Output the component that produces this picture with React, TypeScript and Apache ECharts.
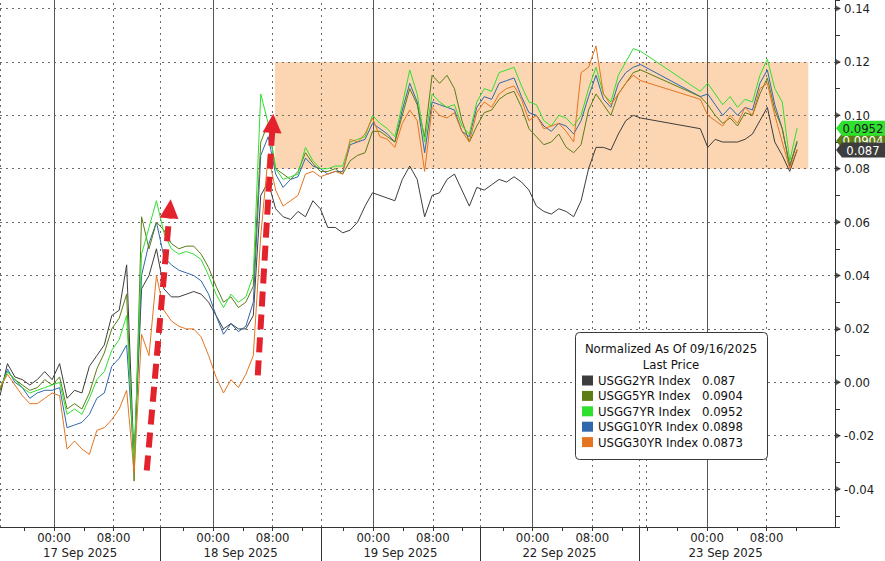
import React, { useEffect, useRef } from "react";
import * as echarts from "echarts";

const FONT = "'DejaVu Sans Condensed', 'Liberation Sans', Arial, sans-serif";

// One sample per session hour (compressed trading time); null = no trading (gap)
const G2 = [
  -0.005, 0.007, 0.002, 0.001, -0.001, 0.001, 0.004, 0.001, 0.007, -0.006,
  -0.003, -0.004, 0.006, 0.010, 0.014, 0.025, 0.027, 0.044, -0.030, 0.035,
  0.040, 0.050, 0.035, 0.032, 0.032, 0.033, 0.034, 0.033, 0.030, 0.025,
  0.020, 0.022, 0.020, 0.020, 0.025, 0.070, 0.075, 0.065, 0.062, 0.061,
  0.064, 0.062, 0.068, 0.065, 0.058, 0.058, 0.056, 0.057, 0.060, 0.066,
  0.071, 0.070, 0.069, 0.068, 0.076, 0.081, 0.076, 0.062, 0.070, 0.071,
  0.076, 0.078, 0.072, 0.066, 0.073, 0.072, 0.074, 0.076, 0.075, 0.077,
  0.075, 0.072, 0.066, 0.064, 0.063, 0.065, 0.064, 0.062, 0.068, 0.080,
  0.088, 0.088, 0.087, 0.093, 0.098, 0.100, 0.099, null, null, null,
  null, null, null, null, 0.095, 0.088, 0.091, 0.090, 0.090, 0.090,
  0.091, 0.093, 0.098, 0.103, 0.090, 0.085, 0.079, 0.087,
];
const G5 = [
  -0.003, 0.004, 0.001, -0.001, -0.003, -0.002, 0.001, -0.001, 0.002, -0.010,
  -0.008, -0.010, -0.004, 0.005, 0.011, 0.020, 0.024, 0.033, -0.037, 0.062,
  0.050, 0.060, 0.057, 0.052, 0.050, 0.051, 0.051, 0.048, 0.043, 0.036,
  0.030, 0.032, 0.028, 0.030, 0.036, 0.090, 0.097, 0.080, 0.078, 0.076,
  0.079, 0.086, 0.082, 0.079, 0.079, 0.080, 0.078, 0.083, 0.085, 0.086,
  0.094, 0.094, 0.092, 0.090, 0.100, 0.110, 0.104, 0.092, 0.115, 0.112,
  0.115, 0.110, 0.098, 0.090, 0.096, 0.101, 0.102, 0.106, 0.108, 0.109,
  0.103, 0.095, 0.092, 0.089, 0.090, 0.093, 0.088, 0.086, 0.089, 0.102,
  0.108, 0.104, 0.100, 0.108, 0.112, 0.116, 0.117, null, null, null,
  null, null, null, null, 0.107, 0.104, 0.100, 0.097, 0.099, 0.096,
  0.101, 0.100, 0.108, 0.114, 0.102, 0.095, 0.081, 0.0904,
];
const G7 = [
  -0.002, 0.004, 0.001, -0.002, -0.004, -0.003, -0.002, -0.001, 0.000, -0.012,
  -0.010, -0.012, -0.006, 0.001, 0.004, 0.012, 0.016, 0.025, -0.030, 0.048,
  0.058, 0.068, 0.056, 0.050, 0.048, 0.049, 0.048, 0.046, 0.040, 0.033,
  0.028, 0.033, 0.030, 0.032, 0.040, 0.108, 0.097, 0.080, 0.076, 0.077,
  0.078, 0.088, 0.083, 0.080, 0.080, 0.081, 0.081, 0.090, 0.091, 0.092,
  0.100, 0.097, 0.095, 0.092, 0.104, 0.117, 0.108, 0.090, 0.108, 0.105,
  0.103, 0.104, 0.096, 0.093, 0.105, 0.110, 0.109, 0.116, 0.117, 0.118,
  0.111, 0.105, 0.104, 0.098, 0.096, 0.100, 0.099, 0.096, 0.100, 0.110,
  0.118, 0.108, 0.105, 0.115, 0.120, 0.125, 0.124, null, null, null,
  null, null, null, null, 0.109, 0.112, 0.108, 0.104, 0.107, 0.103,
  0.106, 0.105, 0.115, 0.121, 0.110, 0.105, 0.083, 0.0952,
];
const G10 = [
  -0.003, 0.005, 0.000, -0.002, -0.006, -0.004, -0.003, -0.003, -0.002, -0.017,
  -0.016, -0.015, -0.012, -0.006, -0.004, 0.006, 0.009, 0.014, -0.028, 0.040,
  0.052, 0.060, 0.047, 0.044, 0.042, 0.041, 0.040, 0.038, 0.033, 0.025,
  0.018, 0.022, 0.019, 0.021, 0.030, 0.085, 0.092, 0.078, 0.073, 0.076,
  0.077, 0.084, 0.081, 0.080, 0.078, 0.079, 0.079, 0.089, 0.090, 0.091,
  0.097, 0.095, 0.093, 0.090, 0.102, 0.112, 0.105, 0.086, 0.105, 0.104,
  0.103, 0.102, 0.094, 0.092, 0.103, 0.107, 0.106, 0.112, 0.113, 0.114,
  0.107, 0.101, 0.100, 0.096, 0.094, 0.097, 0.096, 0.093, 0.098, 0.107,
  0.115, 0.106, 0.103, 0.112, 0.116, 0.118, 0.119, null, null, null,
  null, null, null, null, 0.107, 0.108, 0.104, 0.100, 0.103, 0.100,
  0.103, 0.102, 0.112, 0.117, 0.104, 0.095, 0.081, 0.0898,
];
const G30 = [
  -0.002, 0.003, -0.001, -0.005, -0.008, -0.008, -0.006, -0.004, -0.005, -0.025,
  -0.022, -0.025, -0.027, -0.018, -0.017, -0.014, -0.010, -0.003, -0.034, 0.018,
  0.010, 0.040, 0.027, 0.023, 0.021, 0.020, 0.020, 0.017, 0.010, 0.002,
  -0.004, 0.001, -0.002, 0.003, 0.010, 0.055, 0.085, 0.072, 0.066, 0.068,
  0.070, 0.078, 0.079, 0.077, 0.078, 0.079, 0.078, 0.091, 0.090, 0.093,
  0.099, 0.092, 0.091, 0.088, 0.097, 0.102, 0.098, 0.079, 0.103, 0.100,
  0.099, 0.101, 0.094, 0.090, 0.101, 0.105, 0.103, 0.108, 0.110, 0.111,
  0.106, 0.098, 0.100, 0.095, 0.096, 0.097, 0.094, 0.090, 0.116, 0.118,
  0.126, 0.108, 0.104, 0.108, 0.112, 0.115, 0.113, null, null, null,
  null, null, null, null, 0.106, 0.100, 0.098, 0.096, 0.100, 0.097,
  0.103, 0.100, 0.110, 0.112, 0.100, 0.090, 0.080, 0.0873,
];

const NAMES = ["USGG2YR Index", "USGG5YR Index", "USGG7YR Index", "USGG10YR Index", "USGG30YR Index"];
const VALUES = [G2, G5, G7, G10, G30];
const HOURS = G2.map((_, i) => i);

// session layout of the compressed time axis (session hours)
const SESSION_DATES = ["17 Sep 2025", "18 Sep 2025", "19 Sep 2025", "22 Sep 2025", "23 Sep 2025"];
const SESSION_STARTS = [0, 21.5, 43.1, 64.4, 85.8];
const SESSION_ENDS = [21.5, 43.1, 64.4, 85.8, 109];
const SESSION_MIDNIGHTS = [7.25, 28.6, 50.1, 71.5, 94.9];
const EXTRA_BREAKS = [86.75];
const TIME_TICKS = ["00:00", "08:00"];
const Y_TICKS = [-0.04, -0.02, 0, 0.02, 0.04, 0.06, 0.08, 0.1, 0.12, 0.14];

const BAND_X = [36.9, 108.5];
const BAND_Y = [0.08, 0.12];
const ARROWS = [
  [[19.7, -0.033], [22.8, 0.065]],
  [[34.6, 0.0026], [36.6, 0.097]],
];

const X_MAX = 112.08;
const Y_MIN = -0.0542;
const Y_MAX = 0.1432;

const COLORS = ["#3d3d3d", "#5b7c16", "#2fe02f", "#2f68ac", "#e57420"];
const DRAW_ORDER = [0, 3, 1, 2, 4];

export default function App() {
  const ref = useRef<HTMLDivElement>(null);
  useEffect(() => {
    if (!ref.current) return;
    const chart = echarts.init(ref.current, undefined, { renderer: "svg" });

    const timeVals: number[] = [];
    const timeTexts: string[] = [];
    SESSION_MIDNIGHTS.forEach((m) => {
      timeVals.push(m, m + 8);
      timeTexts.push(TIME_TICKS[0], TIME_TICKS[1]);
    });
    const fourHour: number[] = [];
    SESSION_MIDNIGHTS.forEach((m, i) => {
      for (let t = m - 16; t < SESSION_ENDS[i] - 0.5; t += 4) {
        if (t > SESSION_STARTS[i] + 0.5) fourHour.push(t);
      }
    });
    const centers = SESSION_STARTS.map((s, i) => (s + SESSION_ENDS[i]) / 2);
    const lastVal = (k: number) => VALUES[k][VALUES[k].length - 1] as number;

    const gridLines: any[] = [];
    SESSION_STARTS.concat(EXTRA_BREAKS).forEach((v) =>
      gridLines.push({ xAxis: v, lineStyle: { type: [2, 4], color: "#6a6a6a", width: 1 } })
    );
    SESSION_MIDNIGHTS.forEach((v) => {
      gridLines.push({ xAxis: v, lineStyle: { type: "solid", color: "#555", width: 1 } });
      gridLines.push({ xAxis: v + 8, lineStyle: { type: [2, 4], color: "#6a6a6a", width: 1 } });
    });

    const badge = (k: number, z: number, textColor: string) => ({
      type: "scatter",
      name: "badge" + k,
      data: [[X_MAX, lastVal(k)]],
      clip: false,
      silent: true,
      z,
      symbol: "path://M0,7.5 L6,0 L50,0 L50,15 L6,15 Z",
      symbolSize: [50, 15],
      symbolOffset: [26, 0],
      itemStyle: { color: COLORS[k], opacity: 1 },
      label: {
        show: true,
        position: "inside",
        formatter: () => String(lastVal(k)),
        color: textColor,
        fontFamily: FONT,
        fontSize: 13,
        offset: [2, 0],
      },
    });

    const series: any[] = [
      {
        type: "line",
        name: "band",
        data: [],
        markArea: {
          z: -1,
          silent: true,
          itemStyle: { color: "#fcd6b2" },
          label: { show: false },
          data: [[{ coord: [BAND_X[0], BAND_Y[0]] }, { coord: [BAND_X[1], BAND_Y[1]] }]],
        },
        markLine: {
          z: 1,
          silent: true,
          symbol: ["none", "none"],
          label: { show: false },
          data: gridLines,
        },
      },
      ...DRAW_ORDER.map((k) => ({
        type: "line",
        name: NAMES[k],
        data: HOURS.map((h, i) => [h, VALUES[k][i]]),
        showSymbol: false,
        symbol: "none",
        connectNulls: true,
        lineStyle: { width: 1, color: COLORS[k] },
        itemStyle: { color: COLORS[k] },
        z: 2,
      })),
      {
        type: "line",
        name: "arrows",
        data: [],
        markLine: {
          z: 20,
          silent: true,
          symbol: ["none", "triangle"],
          symbolSize: [19, 19],
          label: { show: false },
          lineStyle: { color: "#e3222c", width: 6, type: [15, 8] },
          itemStyle: { color: "#e3222c" },
          data: ARROWS.map(([a, b]) => [{ coord: a }, { coord: b }]),
        },
      },
      {
        type: "scatter",
        name: "yTickMarks",
        data: Y_TICKS.map((v) => [X_MAX, v]),
        clip: false,
        silent: true,
        z: 6,
        symbol: "triangle",
        symbolRotate: -90,
        symbolSize: [7, 6],
        symbolOffset: [3, 0],
        itemStyle: { color: "#333" },
      },
      badge(1, 10, "#ffffff"),
      badge(0, 11, "#ffffff"),
      badge(2, 12, "#1a1a1a"),
    ];

    chart.setOption({
      animation: false,
      backgroundColor: "#ffffff",
      textStyle: { fontFamily: FONT },
      grid: { left: 0, right: 50, top: 0, bottom: 34, containLabel: false },
      xAxis: [
        {
          type: "value",
          min: 0,
          max: X_MAX,
          position: "bottom",
          axisLine: { show: true, onZero: false, lineStyle: { color: "#333", width: 1 } },
          axisTick: { show: true, customValues: fourHour, length: 4, inside: false, lineStyle: { color: "#333" } },
          axisLabel: {
            customValues: timeVals,
            margin: 4,
            fontFamily: FONT,
            fontSize: 13,
            color: "#222",
            formatter: (v: number) => {
              const i = timeVals.findIndex((t) => Math.abs(t - v) < 1e-6);
              return i >= 0 ? timeTexts[i] : "";
            },
          },
          splitLine: { show: false },
        },
        {
          type: "value",
          min: 0,
          max: X_MAX,
          position: "bottom",
          axisLine: { show: false, onZero: false },
          axisTick: { show: false },
          axisLabel: {
            customValues: centers,
            margin: 19,
            fontFamily: FONT,
            fontSize: 13,
            color: "#222",
            formatter: (v: number) => {
              const i = centers.findIndex((t) => Math.abs(t - v) < 1e-6);
              return i >= 0 ? SESSION_DATES[i] : "";
            },
          },
          splitLine: { show: false },
        },
        {
          type: "value",
          min: 0,
          max: X_MAX,
          position: "bottom",
          axisLine: { show: false, onZero: false },
          axisTick: { show: true, customValues: SESSION_STARTS.slice(1), length: 34, inside: false, lineStyle: { color: "#333" } },
          axisLabel: { show: false },
          splitLine: { show: false },
        },
      ],
      yAxis: [
        {
          type: "value",
          position: "right",
          min: Y_MIN,
          max: Y_MAX,
          splitNumber: 10,
          axisLine: { show: true, onZero: false, lineStyle: { color: "#333", width: 1 } },
          axisTick: { show: false },
          axisLabel: {
            margin: 9,
            fontFamily: FONT,
            fontSize: 13,
            color: "#222",
            showMinLabel: false,
            showMaxLabel: false,
            formatter: (v: number) => v.toFixed(2),
          },
          splitLine: {
            show: true,
            showMinLine: false,
            showMaxLine: false,
            lineStyle: { type: [2, 4], color: "#6a6a6a", width: 1 },
          },
        },
        {
          type: "value",
          position: "right",
          min: Y_MIN,
          max: Y_MAX,
          splitNumber: 20,
          axisLine: { show: false, onZero: false },
          axisTick: { show: true, length: 5, inside: false, lineStyle: { color: "#333" } },
          axisLabel: { show: false },
          splitLine: { show: false },
        },
      ],
      legend: {
        data: NAMES,
        orient: "vertical",
        left: 582,
        top: 374,
        icon: "rect",
        itemWidth: 11,
        itemHeight: 10,
        itemGap: 2.4,
        selectedMode: false,
        padding: 0,
        formatter: (name: string) => {
          const k = NAMES.indexOf(name);
          return `{n|${name}}{v|${String(lastVal(k))}}`;
        },
        textStyle: {
          fontFamily: FONT,
          fontSize: 13,
          color: "#111",
          rich: {
            n: { width: 104, fontFamily: FONT, fontSize: 13, color: "#111", lineHeight: 14 },
            v: { fontFamily: FONT, fontSize: 13, color: "#111", lineHeight: 14 },
          },
        },
      },
      graphic: [
        {
          type: "rect",
          z: 3,
          silent: true,
          shape: { x: 575.5, y: 332.5, width: 192, height: 127, r: 4 },
          style: { fill: "#ffffff", stroke: "#3a3a3a", lineWidth: 1 },
        },
        {
          type: "text",
          z: 5,
          x: 671,
          y: 348,
          style: { text: "Normalized As Of 09/16/2025", fontFamily: FONT, fontSize: 13, fill: "#111", align: "center", verticalAlign: "middle" },
        },
        {
          type: "text",
          z: 5,
          x: 671,
          y: 364,
          style: { text: "Last Price", fontFamily: FONT, fontSize: 13, fill: "#111", align: "center", verticalAlign: "middle" },
        },
      ],
      series,
    });
    return () => chart.dispose();
  }, []);

  return (
    <div
      ref={ref}
      style={{ position: "fixed", left: 0, top: 0, width: 885, height: 561, background: "#ffffff" }}
    />
  );
}
